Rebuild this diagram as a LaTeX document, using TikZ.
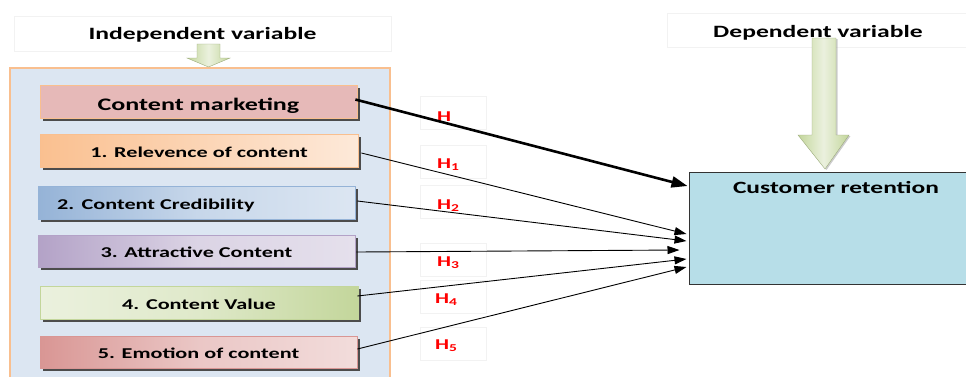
\documentclass[tikz,border=0pt]{standalone}
\usepackage{fontspec}
\setmainfont{Carlito}[FakeStretch=1.48]
\usetikzlibrary{arrows.meta,shadows}
\definecolor{outerfill}{HTML}{DCE6F2}
\definecolor{orangeb}{HTML}{F9BF8F}
\definecolor{cmfill}{HTML}{E6B9B8}
\definecolor{oD}{HTML}{FAC090}\definecolor{oL}{HTML}{FDE9D9}
\definecolor{bD}{HTML}{95B3D7}\definecolor{bL}{HTML}{DCE6F2}
\definecolor{pD}{HTML}{B3A2C7}\definecolor{pL}{HTML}{E5E0EC}
\definecolor{gD}{HTML}{C3D69B}\definecolor{gL}{HTML}{EBF1DE}
\definecolor{rD}{HTML}{D99694}\definecolor{rL}{HTML}{F2DCDB}
\definecolor{crfill}{HTML}{B7DEE8}
\definecolor{faint}{HTML}{F2F2F2}
\definecolor{hred}{HTML}{FF0000}
\tikzset{
  itembox/.style={rectangle, minimum width=317pt, minimum height=33pt, inner sep=0pt,
    font=\bfseries\fontsize{15}{17}\selectfont, line width=0.8pt, text height=13pt, text depth=0pt,
    drop shadow={shadow xshift=2.5pt, shadow yshift=-2.5pt, fill=black!70, opacity=1}},
  titlebox/.style={rectangle, draw=faint, fill=white, inner sep=0pt, minimum height=35pt,
    font=\bfseries\fontsize{17.3}{19}\selectfont, text depth=0pt},
  hbox/.style={rectangle, draw=faint, line width=0.6pt, minimum width=66pt, minimum height=33pt, inner sep=0pt},
  hlab/.style={text=hred, font=\bfseries\fontsize{15}{17}\selectfont, inner sep=0pt},
  conn/.style={-{Triangle[length=12pt,width=8pt]}, line width=0.9pt, black},
  greenarrow/.style={left color=gD, right color=gD, middle color=gL, draw=gD!80!black, line width=0.4pt}
}
\begin{document}
\begin{tikzpicture}[x=1pt,y=-1pt]
\useasboundingbox (0,0) rectangle (966,376);
% titles
\node[titlebox, minimum width=377pt, text height=12pt] (indep) at (202.5,33.5) {Independent variable};
\node[titlebox, minimum width=302pt, minimum height=34pt, text height=15pt] (dep) at (818,30) {Dependent variable};
% outer group
\node[rectangle, draw=orangeb, fill=outerfill, line width=1.4pt, minimum width=380pt, minimum height=316pt, inner sep=0pt] (group) at (200,226) {};
% small green arrow
\draw[greenarrow] (197,44) -- (220,44) -- (220,58) -- (230,58) -- (208.5,67) -- (187,58) -- (197,58) -- cycle;
% items
\node[itembox, draw=orangeb, fill=cmfill, font=\bfseries\fontsize{17.6}{20}\selectfont, text height=18pt] (cm) at (198.5,101.5) {Content marketing};
\node[itembox, draw=orangeb, left color=oD, right color=oL, minimum width=318pt] (i1) at (199,150.5) {1. Relevence of content};
\node[itembox, draw=bD, left color=bD, right color=bL, middle color=bL!70!bD, text width=279pt, align=left, inner xsep=19pt] (i2) at (196.5,202.5) {2. Content Credibility};
\node[itembox, draw=pD, left color=pD, right color=pL, middle color=pL!80!pD, minimum height=32pt] (i3) at (196.5,251) {3. Attractive Content};
\node[itembox, draw=gD, left color=gL, right color=gD, middle color=gL!70!gD, minimum width=318pt] (i4) at (199,302.5) {4. Content Value};
\node[itembox, draw=rD, left color=rD, right color=rL, middle color=rL!70!rD, minimum height=32pt] (i5) at (198.5,352) {5. Emotion of content};
% H boxes
\node[hbox] (b0) at (453,113) {};
\node[hbox] (b1) at (453,161.5) {};
\node[hbox] (b2) at (453,201.5) {};
\node[hbox] (b3) at (453,259.5) {};
\node[hbox] (b4) at (453,296.5) {};
\node[hbox] (b5) at (453,343.5) {};
\node[hlab, anchor=west] (h0) at (437,116.5) {H};
\node[hlab, anchor=west] (h1) at (437,165) {H\textsubscript{1}};
\node[hlab, anchor=west] (h2) at (437,205.5) {H\textsubscript{2}};
\node[hlab, anchor=west] (h3) at (437,263) {H\textsubscript{3}};
\node[hlab, anchor=west] (h4) at (435,300) {H\textsubscript{4}};
\node[hlab, anchor=west] (h5) at (435,346) {H\textsubscript{5}};
% customer retention
\node[rectangle, draw=black!80, fill=crfill, line width=1pt, minimum width=282pt, minimum height=112pt,
  inner ysep=5pt, text height=16pt, text depth=86pt, font=\bfseries\fontsize{17.2}{19}\selectfont] (cr) at (830,228) {\hspace*{12pt}Customer retention};
% big green arrow
\draw[greenarrow, drop shadow={shadow xshift=1.5pt, shadow yshift=-1pt, fill=black!40}] (812,38) -- (836,38) -- (836,135) -- (849,135) -- (825,169) -- (798,135) -- (812,135) -- cycle;
% connectors
\draw[-{Triangle[length=16pt,width=11pt]}, line width=2.6pt] ([xshift=-2pt,yshift=2pt]cm.east) -- ([xshift=-1pt,yshift=42pt]cr.west);
\draw[conn] ([xshift=3pt,yshift=-2.5pt]i1.east) -- ([xshift=-2pt,yshift=-6pt]cr.west);
\draw[conn] ([xshift=2pt,yshift=1.5pt]i2.east) -- ([xshift=-2pt,yshift=-13pt]cr.west);
\draw[conn] ([xshift=1pt,yshift=-1pt]i3.east) -- ([xshift=-9pt,yshift=-22pt]cr.west);
\draw[conn] ([xshift=-1pt,yshift=6.5pt]i4.east) -- ([xshift=-2pt,yshift=-31pt]cr.west);
\draw[conn] ([yshift=3pt]i5.east) -- ([xshift=-2pt,yshift=-39pt]cr.west);
\end{tikzpicture}
\end{document}
